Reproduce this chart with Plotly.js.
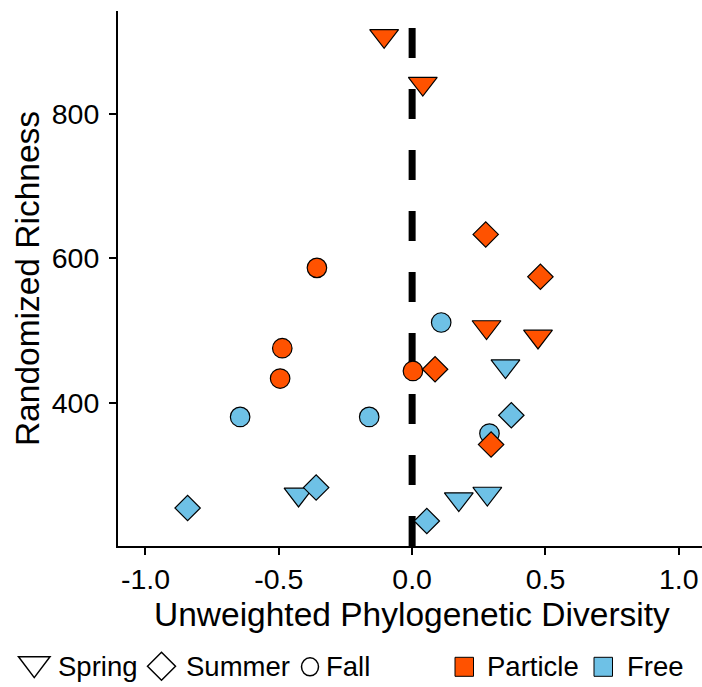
<!DOCTYPE html>
<html>
<head>
<meta charset="utf-8">
<script src="https://cdn.plot.ly/plotly-3.0.1.min.js"></script>
<style>html,body{margin:0;padding:0;background:#fff;}#chart{width:702px;height:687px;}</style>
</head>
<body>
<div id="chart"></div>
<script>
// ---- Data ----
const springParticleX = [-0.105, 0.040, 0.279, 0.472];
const springParticleY = [907.5, 841.6, 505.3, 492.3];
const springFreeX = [-0.426, 0.350, 0.175, 0.282];
const springFreeY = [274.0, 451.4, 267.6, 275.3];
const summerParticleX = [0.276, 0.481, 0.086, 0.296];
const summerParticleY = [633.2, 574.6, 447.0, 342.9];
const summerFreeX = [-0.842, -0.360, 0.372, 0.055];
const summerFreeY = [255.3, 283.5, 383.4, 237.3];
const fallParticleX = [-0.357, -0.487, -0.495, 0.003];
const fallParticleY = [587.0, 476.0, 434.1, 444.6];
const fallFreeX = [-0.645, -0.161, 0.109, 0.290];
const fallFreeY = [381.1, 381.1, 511.5, 358.1];

const xTickVals = [-1, -0.5, 0, 0.5, 1];
const xTickText = ["-1.0", "-0.5", "0.0", "0.5", "1.0"];
const yTickVals = [400, 600, 800];
const yTickText = ["400", "600", "800"];
const referenceLineX = 0;

const xAxisTitle = "Unweighted Phylogenetic Diversity";
const yAxisTitle = "Randomized Richness";
const seasonLabels = ["Spring", "Summer", "Fall"];
const fractionLabels = ["Particle", "Free"];

// ---- Styles ----
const FONT = "Liberation Sans, Arial, Helvetica, sans-serif";
const ORANGE = "#FF5200";
const BLUE = "#6EC1E6";
const W = 702, H = 687;
const L = 118, R = 702, T = 10.7, B = 545.7;

function px(x) { return (x - L) / (R - L); }
function py(y) { return (B - y) / (B - T); }

function trace(name, xs, ys, symbol, size, color) {
  return {
    type: "scatter", mode: "markers", name: name, x: xs, y: ys,
    showlegend: false, cliponaxis: false,
    marker: { symbol: symbol, size: size, color: color, line: { color: "#000", width: 1.2 } }
  };
}

const traces = [
  trace("Spring Free", springFreeX, springFreeY, "triangle-down", 25, BLUE),
  trace("Spring Particle", springParticleX, springParticleY, "triangle-down", 25, ORANGE),
  trace("Fall Free", fallFreeX, fallFreeY, "circle", 19.5, BLUE),
  trace("Fall Particle", fallParticleX, fallParticleY, "circle", 19.5, ORANGE),
  trace("Summer Free", summerFreeX, summerFreeY, "diamond", 19.5, BLUE),
  trace("Summer Particle", summerParticleX, summerParticleY, "diamond", 19.5, ORANGE)
];

const shapes = [
  { type: "line", xref: "x", yref: "paper", x0: referenceLineX, x1: referenceLineX, y0: 0, y1: 1,
    layer: "below", line: { color: "#000", width: 7, dash: "30px,31px" } },
  // legend keys
  { type: "path", xref: "paper", yref: "paper",
    path: "M" + px(18.5) + "," + py(656.5) + " L" + px(50) + "," + py(656.5) + " L" + px(34.25) + "," + py(677.3) + " Z",
    line: { color: "#000", width: 1.5 }, fillcolor: "rgba(0,0,0,0)" },
  { type: "path", xref: "paper", yref: "paper",
    path: "M" + px(147.5) + "," + py(666) + " L" + px(161.5) + "," + py(652) + " L" + px(175.5) + "," + py(666) + " L" + px(161.5) + "," + py(680) + " Z",
    line: { color: "#000", width: 1.5 }, fillcolor: "rgba(0,0,0,0)" },
  { type: "circle", xref: "paper", yref: "paper",
    x0: px(301.5), x1: px(318.5), y0: py(675.5), y1: py(657.5),
    line: { color: "#000", width: 1.5 }, fillcolor: "rgba(0,0,0,0)" },
  { type: "rect", xref: "paper", yref: "paper",
    x0: px(455), x1: px(473.5), y0: py(676), y1: py(657),
    line: { color: "#000", width: 1 }, fillcolor: ORANGE },
  { type: "rect", xref: "paper", yref: "paper",
    x0: px(594), x1: px(612.5), y0: py(676), y1: py(657),
    line: { color: "#000", width: 1 }, fillcolor: BLUE }
];

function legendText(text, xPix) {
  return { text: text, xref: "paper", yref: "paper", x: px(xPix), y: py(666.5),
    xanchor: "left", yanchor: "middle", showarrow: false,
    font: { family: FONT, size: 27.5, color: "#000" } };
}
const annotations = [
  legendText(seasonLabels[0], 55.5),
  legendText(seasonLabels[1], 183.5),
  legendText(seasonLabels[2], 324),
  legendText(fractionLabels[0], 485),
  legendText(fractionLabels[1], 625),
  { text: xAxisTitle, xref: "paper", yref: "paper", x: px(411.5), y: py(614),
    xanchor: "center", yanchor: "middle", showarrow: false,
    font: { family: FONT, size: 33.5, color: "#000" } }
];

const axisCommon = {
  showline: true, linecolor: "#000", linewidth: 2, mirror: false,
  ticks: "outside", ticklen: 7, tickwidth: 2, tickcolor: "#000",
  showgrid: false, zeroline: false,
  tickfont: { family: FONT, size: 28.5, color: "#000" }
};

const layout = {
  width: W, height: H,
  margin: { l: L, r: W - R, t: T, b: H - B, pad: 0 },
  paper_bgcolor: "#fff", plot_bgcolor: "#fff",
  font: { family: FONT, color: "#000" },
  xaxis: Object.assign({}, axisCommon, {
    range: [-1.103, 1.087], tickmode: "array", tickvals: xTickVals, ticktext: xTickText,
    ticklabelstandoff: 0
  }),
  yaxis: Object.assign({}, axisCommon, {
    range: [202.8, 941.8], tickmode: "array", tickvals: yTickVals, ticktext: yTickText,
    ticklabelstandoff: 4,
    title: { text: yAxisTitle, font: { family: FONT, size: 33.5, color: "#000" }, standoff: 2 }
  }),
  shapes: shapes,
  annotations: annotations,
  showlegend: false
};

Plotly.newPlot("chart", traces, layout, { displayModeBar: false, staticPlot: true });
</script>
</body>
</html>
